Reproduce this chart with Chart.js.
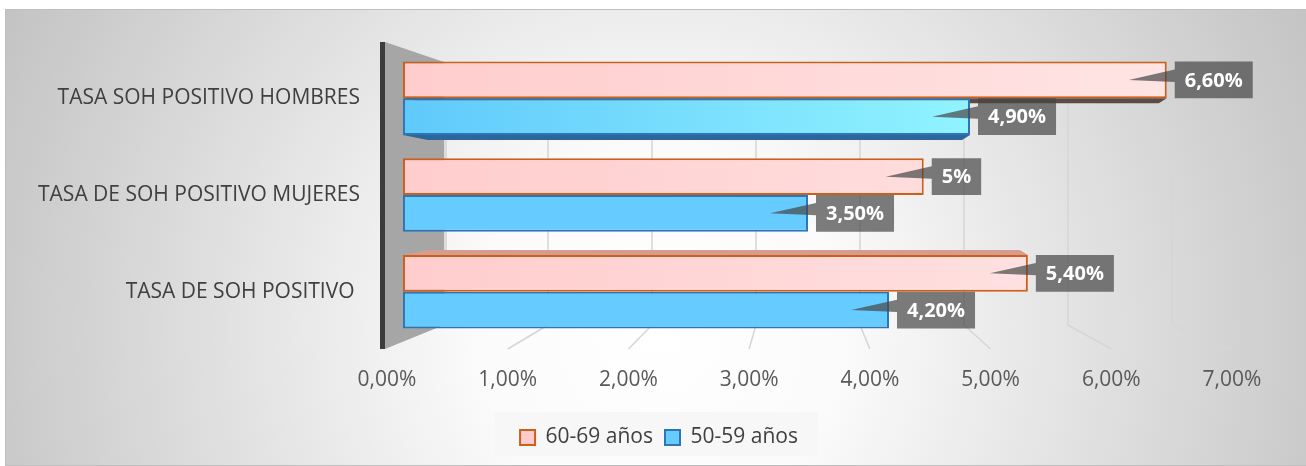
<!DOCTYPE html>
<html>
<head>
<meta charset="utf-8">
<script src="https://cdn.jsdelivr.net/npm/chart.js@4.4.1/dist/chart.umd.min.js"></script>
<style>
  html, body { margin: 0; padding: 0; background: #fff; }
  #wrap { position: relative; width: 1306px; height: 466px; }
</style>
</head>
<body>
<div id="wrap"><canvas id="myChart"></canvas></div>
<script>
const categories = ['TASA SOH POSITIVO HOMBRES', 'TASA DE SOH POSITIVO MUJERES', 'TASA DE SOH POSITIVO '];
const seriesNames = ['60-69 años', '50-59 años'];
const values6069 = [6.6, 4.5, 5.4];
const values5059 = [4.9, 3.5, 4.2];
const labels6069 = ['6,60%', '5%', '5,40%'];
const labels5059 = ['4,90%', '3,50%', '4,20%'];
const tickValues = [0, 1, 2, 3, 4, 5, 6, 7];
const tickLabels = ['0,00%', '1,00%', '2,00%', '3,00%', '4,00%', '5,00%', '6,00%', '7,00%'];

const FONT = '"Open Sans", "Noto Sans", sans-serif';
const pinkBorder = '#cc5f1a';
const blueBorder = '#2e75b6';

function pinkFill(ctx) {
    const area = ctx.chart.chartArea;
    if (!area) return '#ffd2d2';
    const g = ctx.chart.ctx.createLinearGradient(area.left, 0, area.right, 0);
    g.addColorStop(0, '#ffcccc');
    g.addColorStop(1, '#ffe6e6');
    return g;
}

function blueFill(ctx) {
    const area = ctx.chart.chartArea;
    if (!area || ctx.dataIndex !== 0) return '#66ccff';
    const g = ctx.chart.ctx.createLinearGradient(area.left, 0, area.left + (area.right - area.left) * 0.7, 0);
    g.addColorStop(0, '#5ec8fb');
    g.addColorStop(1, '#92f4ff');
    return g;
}

// fondo degradado + recuadro de la leyenda
const backgroundPlugin = {
    id: 'fondo',
    beforeDraw(chart) {
        const c = chart.ctx;
        const w = chart.width, h = chart.height;
        c.save();
        const g = c.createRadialGradient(660, 330, 0, 660, 330, 720);
        g.addColorStop(0, '#ffffff');
        g.addColorStop(0.25, '#fbfbfb');
        g.addColorStop(1, '#c4c4c4');
        c.fillStyle = g;
        c.fillRect(5, 9, w - 5, h - 10);
        c.strokeStyle = '#bfbfbf';
        c.lineWidth = 1;
        c.strokeRect(5.5, 9.5, w - 5, h - 10);

        const lg = chart.legend;
        if (lg && lg.legendHitBoxes && lg.legendHitBoxes.length) {
            const hb = lg.legendHitBoxes;
            const left = hb[0].left - 25;
            const right = hb[hb.length - 1].left + hb[hb.length - 1].width + 20;
            c.fillStyle = '#f7f7f7';
            c.fillRect(left, lg.top - 3, right - left, lg.bottom - lg.top + 1);
        }
        c.restore();
    }
};

// pared lateral, rejilla en perspectiva y caras 3D de las barras
const wallPlugin = {
    id: 'pared',
    beforeDatasetsDraw(chart) {
        const c = chart.ctx;
        const area = chart.chartArea;
        const xf = chart.scales.x;
        const xw = chart.scales.xw;
        const wallTop = area.top + 52;
        const wallBottom = area.bottom - 15;
        const floorY = area.bottom + 9;
        c.save();
        c.strokeStyle = '#d6d6d6';
        c.lineWidth = 1.5;
        tickValues.forEach(v => {
            if (v === 0) return;
            const bx = xw.getPixelForValue(v);
            const fx = xf.getPixelForValue(v);
            c.beginPath();
            c.moveTo(bx, wallTop);
            c.lineTo(bx, wallBottom);
            c.lineTo(fx, floorY);
            c.stroke();
        });

        const x0 = xf.getPixelForValue(0) - 2;
        const b0 = xw.getPixelForValue(0);
        c.fillStyle = '#a6a6a6';
        c.beginPath();
        c.moveTo(x0, area.top - 8);
        c.lineTo(b0, area.top + 12);
        c.lineTo(b0, wallBottom);
        c.lineTo(x0, floorY);
        c.closePath();
        c.fill();
        c.fillStyle = '#dcdcdc';
        c.fillRect(b0, area.top + 12, 3, wallBottom - area.top - 12);
        c.fillStyle = '#3c3c3c';
        c.fillRect(x0 - 5, area.top - 8, 5, floorY - area.top + 8);

        chart.data.datasets.forEach((ds, i) => {
            const meta = chart.getDatasetMeta(i);
            meta.data.forEach((el, j) => {
                const top = el.y - el.height / 2;
                const bottom = el.y + el.height / 2;
                if (j === 0) {
                    c.fillStyle = i === 0 ? 'rgba(84,66,64,0.95)' : '#2b679c';
                    c.beginPath();
                    c.moveTo(el.base, bottom);
                    c.lineTo(el.x, bottom);
                    c.lineTo(el.x - 8, bottom + 5);
                    c.lineTo(el.base + 25, bottom + 5);
                    c.closePath();
                    c.fill();
                }
                if (j === 2 && i === 0) {
                    c.fillStyle = '#d79c8e';
                    c.beginPath();
                    c.moveTo(el.base, top);
                    c.lineTo(el.base + 25, top - 5);
                    c.lineTo(el.x - 8, top - 5);
                    c.lineTo(el.x, top);
                    c.closePath();
                    c.fill();
                }
            });
        });
        c.restore();
    }
};

// etiquetas de datos con globo
const labelPlugin = {
    id: 'etiquetas',
    afterDatasetsDraw(chart) {
        const c = chart.ctx;
        const texts = [labels6069, labels5059];
        c.save();
        c.font = 'bold 20px ' + FONT;
        c.textAlign = 'center';
        c.textBaseline = 'middle';
        chart.data.datasets.forEach((ds, i) => {
            const meta = chart.getDatasetMeta(i);
            meta.data.forEach((el, j) => {
                const text = texts[i][j];
                const w = c.measureText(text).width + 20;
                const h = el.height;
                const left = el.x + 8;
                const top = el.y - h / 2;
                c.fillStyle = 'rgba(70,70,70,0.7)';
                c.beginPath();
                c.moveTo(left, top);
                c.lineTo(left + w, top);
                c.lineTo(left + w, top + h);
                c.lineTo(left, top + h);
                c.lineTo(left, el.y + 2);
                c.lineTo(el.x - 38, el.y);
                c.lineTo(left, top + 8);
                c.closePath();
                c.fill();
                c.fillStyle = '#ffffff';
                c.fillText(text, left + w / 2, el.y + 1);
            });
        });
        c.restore();
    }
};

function makeChart() {
    const ctx = document.getElementById('myChart');
    new Chart(ctx, {
        type: 'bar',
        data: {
            labels: categories,
            datasets: [{
                label: seriesNames[0],
                data: values6069,
                backgroundColor: pinkFill,
                borderColor: pinkBorder,
                borderWidth: 2,
                borderSkipped: false,
                xAxisID: 'xb'
            }, {
                label: seriesNames[1],
                data: values5059,
                backgroundColor: blueFill,
                borderColor: blueBorder,
                borderWidth: 2,
                borderSkipped: false,
                xAxisID: 'xb'
            }]
        },
        options: {
            indexAxis: 'y',
            responsive: true,
            maintainAspectRatio: false,
            animation: false,
            categoryPercentage: 0.76,
            barPercentage: 1,
            layout: { padding: { top: 50, left: 12, right: 0, bottom: 8 } },
            plugins: {
                tooltip: { enabled: false },
                legend: {
                    position: 'bottom',
                    labels: {
                        font: { family: FONT, size: 21 },
                        color: '#404040',
                        boxWidth: 15,
                        boxHeight: 15,
                        padding: 12,
                        generateLabels(chart) {
                            const items = Chart.defaults.plugins.legend.labels.generateLabels(chart);
                            items.forEach((it, k) => {
                                it.fillStyle = k === 0 ? '#ffcccc' : '#66ccff';
                                it.strokeStyle = k === 0 ? pinkBorder : blueBorder;
                                it.lineWidth = 2;
                            });
                            return items;
                        }
                    }
                }
            },
            scales: {
                y: {
                    position: 'left',
                    grid: { display: false, drawTicks: false },
                    border: { display: false },
                    ticks: { font: { family: FONT, size: 21 }, color: '#404040', padding: 27 },
                    afterFit(scale) { scale.width = 375; }
                },
                yr: {
                    type: 'linear',
                    position: 'right',
                    grid: { display: false, drawTicks: false },
                    border: { display: false },
                    ticks: { display: false },
                    afterFit(scale) { scale.width = 74; }
                },
                x: {
                    position: 'bottom',
                    min: 0,
                    max: 7,
                    grid: { display: false, drawTicks: false },
                    border: { display: false },
                    ticks: {
                        stepSize: 1,
                        font: { family: FONT, size: 21 },
                        color: '#595959',
                        padding: 27,
                        callback: (value, index) => tickLabels[index]
                    },
                    afterFit(scale) { scale.height = 75; }
                },
                xb: { display: false, position: 'bottom', min: -0.138, max: 7.164 },
                xw: { display: false, position: 'bottom', min: -0.548, max: 7.577 }
            }
        },
        plugins: [backgroundPlugin, wallPlugin, labelPlugin]
    });
}

makeChart();
</script>
</body>
</html>
